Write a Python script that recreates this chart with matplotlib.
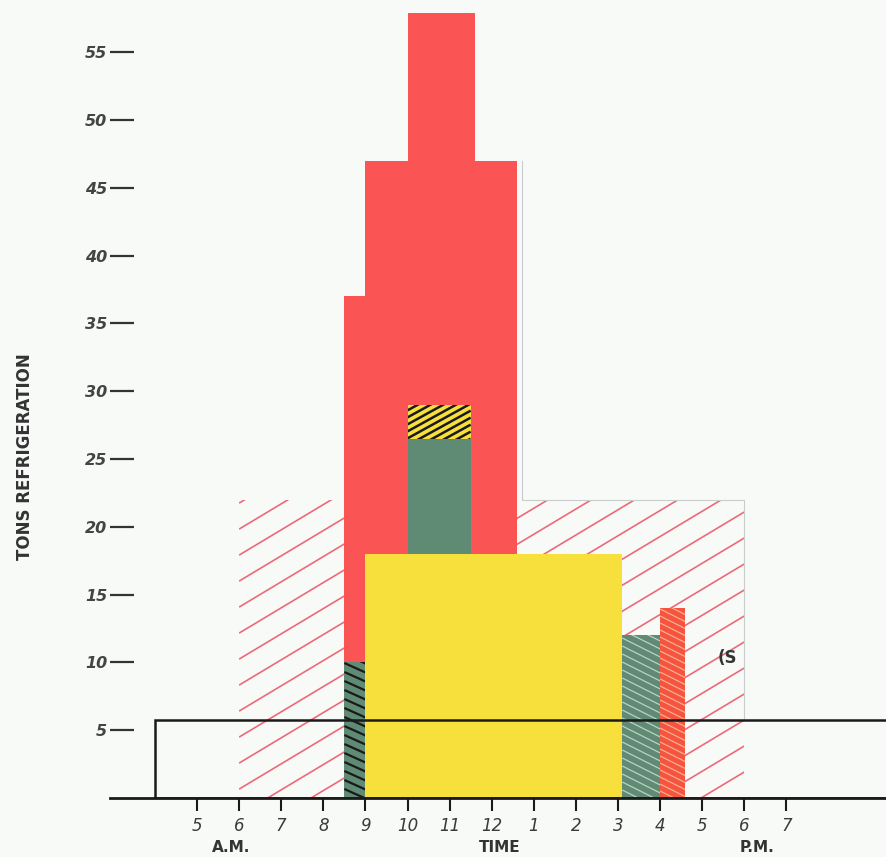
import numpy as np
import matplotlib
matplotlib.use("Agg")
import matplotlib.pyplot as plt
from matplotlib.patches import Rectangle

# ---- data (hours on a 24h clock, load in tons) ----
hour_ticks = list(range(5, 20))
hour_labels = ["5", "6", "7", "8", "9", "10", "11", "12", "1", "2", "3", "4", "5", "6", "7"]
ton_ticks = [5, 10, 15, 20, 25, 30, 35, 40, 45, 50, 55]

red_edges = [8.5, 9.0, 10.0, 11.6, 12.6]
red_tons = [37, 47, 57.9, 47]

yellow_span = [9.0, 15.1]
yellow_tons = 18

green_left_span = [8.5, 9.0]
green_left_tons = 10

green_mid_span = [10.0, 11.5]
green_mid_range = [18, 26.5]
cap_range = [26.5, 29]

green_right_span = [15.1, 16.0]
green_right_tons = 12
orange_span = [16.0, 16.6]
orange_tons = 14

hatched_span = [6.0, 18.0]
hatched_tons = 22

box_start = 4.0
box_tons = 5.75

# ---- colours ----
BG = "#f8faf8"
RED = "#fa5454"
YELLOW = "#f8e03c"
GREEN = "#5f8a73"
ORANGE = "#f4553c"
PINK = "#ec6a78"

W, H = 886, 857
PX_HR = 42.1
PX_TON = 13.56

fig = plt.figure(figsize=(W / 100, H / 100), dpi=100, facecolor=BG)
ax = fig.add_axes([110 / W, (H - 798) / H, (W - 110) / W, 798 / H])
ax.set_facecolor(BG)
ax.set_xlim(5 - 87 / PX_HR, 5 + 689 / PX_HR)
ax.set_ylim(0, 798 / PX_TON)


def hatch(x0, x1, y0, y1, slope, step, color, lw, z, alpha=1.0):
    # slope / step given in pixels, lines clipped to the rectangle
    rect = Rectangle((x0, y0), x1 - x0, y1 - y0, fc="none", ec="none")
    ax.add_patch(rect)
    X0, X1 = x0 * PX_HR, x1 * PX_HR
    Y0, Y1 = y0 * PX_TON, y1 * PX_TON
    cs = [Y0 - slope * X0, Y0 - slope * X1, Y1 - slope * X0, Y1 - slope * X1]
    for c in np.arange(min(cs), max(cs) + step, step):
        xs = np.array([X0, X1])
        ys = slope * xs + c
        ln, = ax.plot(xs / PX_HR, ys / PX_TON, color=color, lw=lw, alpha=alpha,
                      zorder=z, solid_capstyle="butt")
        ln.set_clip_path(rect)


# background hatched area
hatch(hatched_span[0], hatched_span[1], 0, hatched_tons, 0.6, 26, PINK, 1.2, 1)
ax.plot([12.72, 12.72, hatched_span[1], hatched_span[1]],
        [47, hatched_tons, hatched_tons, box_tons], color="#c8cccc", lw=0.8, zorder=1.5)

# red stepped load
ax.bar(red_edges[:-1], red_tons, width=np.diff(red_edges), align="edge",
       color=RED, zorder=2)

# yellow block
ax.bar(yellow_span[0], yellow_tons, width=yellow_span[1] - yellow_span[0],
       align="edge", color=YELLOW, zorder=3)

# green bar left, black hatch
ax.bar(green_left_span[0], green_left_tons, width=np.diff(green_left_span)[0],
       align="edge", color=GREEN, zorder=3)
hatch(green_left_span[0], green_left_span[1], 0, green_left_tons, -0.45, 9, "#1a1a1a", 1.6, 3.5)

# green middle bar with yellow/black cap
ax.bar(green_mid_span[0], green_mid_range[1] - green_mid_range[0],
       width=np.diff(green_mid_span)[0], bottom=green_mid_range[0],
       align="edge", color=GREEN, zorder=3)
ax.bar(green_mid_span[0], cap_range[1] - cap_range[0], width=np.diff(green_mid_span)[0],
       bottom=cap_range[0], align="edge", color=YELLOW, zorder=3)
hatch(green_mid_span[0], green_mid_span[1], cap_range[0], cap_range[1], 0.55, 7, "#1a1a1a", 1.8, 3.5)

# green + orange bars on the right
ax.bar(green_right_span[0], green_right_tons, width=np.diff(green_right_span)[0],
       align="edge", color=GREEN, zorder=3)
hatch(green_right_span[0], green_right_span[1], 0, green_right_tons, -0.5, 8, "white", 0.9, 3.5, 0.6)
ax.bar(orange_span[0], orange_tons, width=np.diff(orange_span)[0],
       align="edge", color=ORANGE, zorder=3)
hatch(orange_span[0], orange_span[1], 0, orange_tons, -0.5, 7, "#ffc0b0", 0.9, 3.5, 0.8)

# base load box
ax.add_patch(Rectangle((box_start, 0), 30, box_tons, fill=False, ec="#1a1a1a", lw=1.8, zorder=5))

ax.text(17.6, 10.3, "(S", fontsize=12, fontweight="bold", color="#333333",
        ha="center", va="center", zorder=4)

# axes styling
for s in ["top", "right", "left"]:
    ax.spines[s].set_visible(False)
ax.spines["bottom"].set_linewidth(2)
ax.spines["bottom"].set_color("#1a1a1a")
ax.spines["bottom"].set_zorder(6)

ax.set_xticks(hour_ticks)
ax.set_xticklabels(hour_labels, fontsize=12, fontstyle="italic", color="#3a3a3a")
ax.tick_params(axis="x", direction="out", length=9.5, width=1.5, color="#1a1a1a", pad=4)

ax.set_yticks(ton_ticks)
ax.set_yticklabels([str(t) for t in ton_ticks], fontsize=11.5, fontstyle="italic",
                   fontweight="bold", color="#444444")
ax.tick_params(axis="y", direction="in", length=17, width=1.6, color="#333333", pad=2)

fig.text(25 / W, 1 - 457 / H, "TONS REFRIGERATION", rotation=90, ha="center", va="center",
         fontsize=12, fontweight="bold", color="#333333",
         family=["Liberation Sans Narrow", "DejaVu Sans"])

for h, lab in [(5.8, "A.M."), (12.2, "TIME"), (18.3, "P.M.")]:
    ax.text(h, -(855 - 798) / PX_TON, lab, ha="center", va="bottom", fontsize=11,
            fontweight="bold", color="#333333", clip_on=False)

fig.savefig("out.png", dpi=100, facecolor=BG)
